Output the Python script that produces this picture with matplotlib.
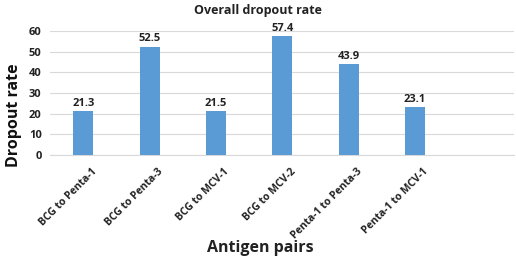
import numpy as np
import matplotlib.pyplot as plt

plt.rcParams['font.family'] = ['Open Sans', 'DejaVu Sans']

pairs = ["BCG to Penta-1", "BCG to Penta-3", "BCG to MCV-1", "BCG to MCV-2",
         "Penta-1 to Penta-3", "Penta-1 to MCV-1"]
rates = [21.3, 52.5, 21.5, 57.4, 43.9, 23.1]
yticks = [0, 10, 20, 30, 40, 50, 60]

fig = plt.figure(figsize=(5.16, 2.70), dpi=100)
ax = fig.add_axes([0.097, 0.426, 0.9, 0.459])

x = np.arange(len(pairs))
ax.bar(x, rates, width=0.3, color="#5B9BD5", zorder=3)
for xi, v in zip(x, rates):
    ax.text(xi, v + 1.0, f"{v:.1f}", ha="center", va="bottom",
            fontsize=8, fontweight="bold", color="#222222")

ax.set_xlim(-0.5, 6.5)
ax.set_ylim(0, 60)
ax.set_yticks(yticks)
ax.set_yticklabels([str(t) for t in yticks], fontsize=8, fontweight="bold", color="#222222")
ax.set_xticks(x + 0.12)
ax.set_xticklabels(pairs, rotation=45, ha="right", rotation_mode="anchor",
                   fontsize=7.5, fontweight="bold", color="#222222")
ax.tick_params(axis="both", length=0)
ax.tick_params(axis="x", pad=8)
ax.tick_params(axis="y", pad=6)
ax.grid(axis="y", color="#d9d9d9", linewidth=0.8, zorder=0)
for s in ["top", "right", "left"]:
    ax.spines[s].set_visible(False)
ax.spines["bottom"].set_color("#d9d9d9")

fig.text(0.5, 0.962, "Overall dropout rate", ha="center", va="center",
         fontsize=9, fontweight="bold", color="#222222")
fig.text(0.027, 0.575, "Dropout rate", ha="center", va="center", rotation=90,
         fontsize=11.5, fontweight="bold", color="#111111")
fig.text(0.505, 0.08, "Antigen pairs", ha="center", va="center",
         fontsize=11.5, fontweight="bold", color="#222222")

plt.savefig("out.png", dpi=100)
